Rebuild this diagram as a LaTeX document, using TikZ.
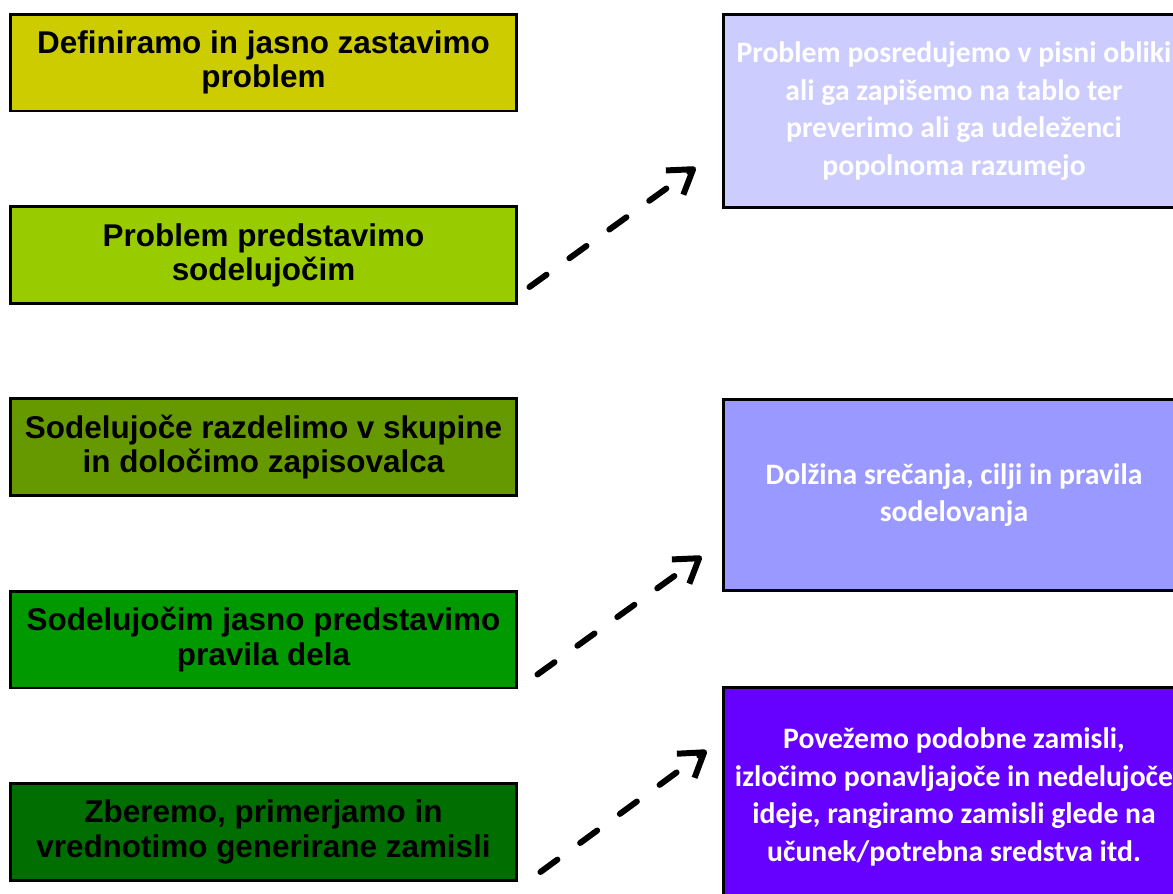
\documentclass[tikz,border=0pt]{standalone}
\usepackage{fontspec}
\setmainfont{Liberation Sans}
\newfontfamily\calibri{Carlito}
\usetikzlibrary{arrows.meta}

\definecolor{stepA}{HTML}{CCCC00}
\definecolor{stepB}{HTML}{99CC00}
\definecolor{stepC}{HTML}{669900}
\definecolor{stepD}{HTML}{009900}
\definecolor{stepE}{HTML}{006E00}
\definecolor{noteA}{HTML}{CCCCFF}
\definecolor{noteB}{HTML}{9999FF}
\definecolor{noteC}{HTML}{6600FF}

\begin{document}
\begin{tikzpicture}[x=0.02cm,y=-0.02cm,
  stepbox/.style={draw=black, line width=1.7pt, minimum width=10.14cm, minimum height=1.94cm,
    inner sep=0pt, align=center, font=\bfseries\fontsize{17.9}{19.5}\selectfont},
  notebox/.style={draw=black, line width=1.7pt, minimum width=9.24cm, inner sep=0pt,
    align=center, text=white, font=\calibri\bfseries\fontsize{16.9}{21.5}\selectfont},
  link/.style={line width=3.4pt, line cap=round, dash pattern=on 12pt off 16pt,
    -{Straight Barb[length=13pt,width=17pt,line join=round]}}]
  \useasboundingbox (0,0) rectangle (1173,893);
  \clip (0,0) rectangle (1173,893);

  \node[stepbox, fill=stepA] (P1) at (263.5,62.5) {Definiramo in jasno zastavimo\\problem};
  \node[stepbox, fill=stepB] (P2) at (263.5,255) {Problem predstavimo\\sodelujočim};
  \node[stepbox, fill=stepC] (P3) at (263.5,447) {Sodelujoče razdelimo v skupine\\in določimo zapisovalca};
  \node[stepbox, fill=stepD] (P4) at (263.5,639.5) {Sodelujočim jasno predstavimo\\pravila dela};
  \node[stepbox, fill=stepE] (P5) at (263.5,832) {Zberemo, primerjamo in\\vrednotimo generirane zamisli};

  \node[notebox, fill=noteA, minimum height=3.88cm] (R1) at (954,111)
    {Problem posredujemo v pisni obliki\\ali ga zapišemo na tablo ter\\preverimo ali ga udeleženci\\popolnoma razumejo};
  \node[notebox, fill=noteB, minimum height=3.84cm] (R2) at (954,495)
    {Dolžina srečanja, cilji in pravila\\sodelovanja};
  \node[notebox, fill=noteC, minimum height=4.4cm] (R3) at (954,797)
    {Povežemo podobne zamisli,\\izločimo ponavljajoče in nedelujoče\\ideje, rangiramo zamisli glede na\\učunek/potrebna sredstva itd.};

  \coordinate (a1) at ([shift={(11,-18)}]P2.south east);
  \coordinate (b1) at ([shift={(-26,-42)}]R1.south west);
  \coordinate (a2) at ([shift={(19,-15)}]P4.south east);
  \coordinate (b2) at ([shift={(-20,-36)}]R2.south west);
  \coordinate (a3) at ([shift={(22,-10)}]P5.south east);
  \coordinate (b3) at ([shift={(-15,65)}]R3.north west);

  \draw[link] (a1) -- (b1);
  \draw[link] (a2) -- (b2);
  \draw[link] (a3) -- (b3);
\end{tikzpicture}
\end{document}
